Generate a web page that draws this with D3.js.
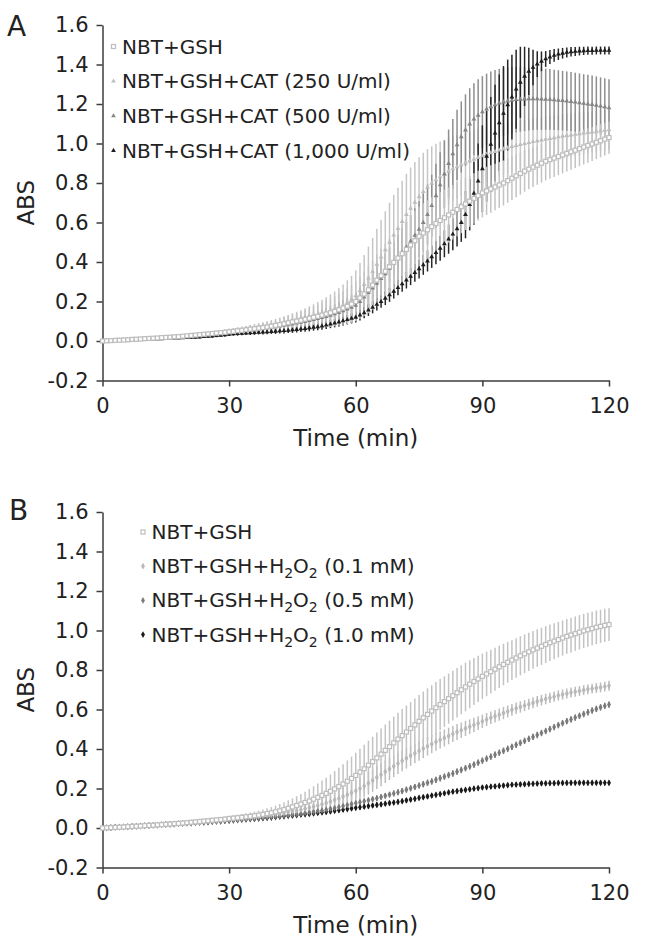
<!DOCTYPE html>
<html><head><meta charset="utf-8">
<script src="https://cdn.jsdelivr.net/npm/d3@7"></script>
<style>
body{margin:0;background:#fff}
svg{display:block}
text{font-family:"DejaVu Sans",Verdana,sans-serif}
</style>
</head><body>
<svg id="chart" width="645" height="938"></svg>
<script>
// ---------- DATA ----------
const times = [0,1,2,3,4,5,6,7,8,9,10,11,12,13,14,15,16,17,18,19,20,21,22,23,24,25,26,27,28,29,30,31,32,33,34,35,36,37,38,39,40,41,42,43,44,45,46,47,48,49,50,51,52,53,54,55,56,57,58,59,60,61,62,63,64,65,66,67,68,69,70,71,72,73,74,75,76,77,78,79,80,81,82,83,84,85,86,87,88,89,90,91,92,93,94,95,96,97,98,99,100,101,102,103,104,105,106,107,108,109,110,111,112,113,114,115,116,117,118,119,120];
const xTicks = [0,30,60,90,120];
const yTicks = [-0.2,0,0.2,0.4,0.6,0.8,1.0,1.2,1.4,1.6];

// Panel A
const aGSH = [0.000,0.001,0.002,0.003,0.004,0.005,0.006,0.008,0.009,0.010,0.012,
0.013,0.014,0.015,0.017,0.018,0.019,0.021,0.022,0.024,0.026,
0.028,0.030,0.032,0.034,0.036,0.038,0.040,0.042,0.044,0.047,
0.049,0.052,0.054,0.057,0.060,0.062,0.065,0.068,0.071,0.075,
0.079,0.083,0.087,0.092,0.097,0.101,0.105,0.110,0.115,0.120,
0.125,0.131,0.137,0.143,0.150,0.158,0.167,0.176,0.187,0.200,
0.218,0.238,0.259,0.283,0.308,0.331,0.353,0.376,0.398,0.420,
0.442,0.464,0.486,0.508,0.530,0.547,0.563,0.579,0.595,0.610,
0.624,0.638,0.652,0.666,0.680,0.694,0.708,0.722,0.736,0.750,
0.760,0.770,0.780,0.790,0.800,0.812,0.824,0.836,0.848,0.860,
0.870,0.880,0.890,0.900,0.910,0.918,0.926,0.934,0.942,0.950,
0.958,0.966,0.974,0.982,0.990,0.998,1.006,1.014,1.022,1.030];
const aGSHErr = [0.001,0.002,0.002,0.002,0.003,0.003,0.003,0.004,0.004,0.004,0.005,
0.005,0.005,0.006,0.006,0.006,0.007,0.007,0.008,0.008,0.009,
0.009,0.010,0.010,0.011,0.011,0.012,0.012,0.013,0.014,0.015,
0.016,0.017,0.018,0.019,0.020,0.021,0.022,0.024,0.026,0.028,
0.030,0.032,0.034,0.036,0.038,0.041,0.044,0.047,0.051,0.055,
0.059,0.063,0.067,0.071,0.075,0.080,0.085,0.090,0.095,0.100,
0.106,0.112,0.118,0.124,0.130,0.135,0.140,0.144,0.147,0.150,
0.151,0.152,0.152,0.152,0.151,0.150,0.149,0.148,0.146,0.144,
0.142,0.140,0.138,0.136,0.134,0.132,0.130,0.128,0.126,0.124,
0.122,0.120,0.118,0.116,0.114,0.112,0.110,0.108,0.106,0.104,
0.102,0.100,0.099,0.098,0.097,0.096,0.095,0.094,0.093,0.092,
0.091,0.090,0.089,0.088,0.087,0.086,0.085,0.084,0.083,0.082];
const aCat250 = [0.000,0.001,0.002,0.003,0.004,0.005,0.006,0.007,0.008,0.009,0.010,
0.011,0.012,0.013,0.015,0.016,0.017,0.019,0.020,0.022,0.023,
0.025,0.027,0.029,0.031,0.033,0.035,0.037,0.039,0.041,0.044,
0.046,0.049,0.051,0.054,0.057,0.060,0.063,0.066,0.069,0.073,
0.077,0.081,0.085,0.089,0.094,0.099,0.104,0.110,0.116,0.122,
0.129,0.136,0.144,0.152,0.161,0.171,0.182,0.195,0.210,0.228,
0.255,0.285,0.318,0.352,0.388,0.425,0.462,0.500,0.536,0.570,
0.605,0.640,0.672,0.702,0.730,0.756,0.778,0.798,0.816,0.832,
0.846,0.859,0.871,0.882,0.892,0.902,0.911,0.920,0.929,0.937,
0.945,0.952,0.959,0.966,0.972,0.978,0.984,0.989,0.994,0.999,
1.004,1.009,1.013,1.017,1.021,1.025,1.029,1.033,1.037,1.040,
1.043,1.046,1.049,1.052,1.055,1.058,1.061,1.064,1.067,1.070];
const aCat250Err = [0.001,0.002,0.002,0.002,0.003,0.003,0.003,0.004,0.004,0.004,0.005,
0.005,0.006,0.006,0.007,0.007,0.008,0.008,0.009,0.009,0.010,
0.010,0.011,0.012,0.012,0.013,0.014,0.015,0.016,0.017,0.018,
0.019,0.020,0.021,0.022,0.024,0.025,0.027,0.029,0.031,0.033,
0.035,0.037,0.040,0.043,0.046,0.049,0.052,0.056,0.060,0.064,
0.068,0.073,0.078,0.084,0.090,0.097,0.104,0.112,0.120,0.130,
0.140,0.150,0.160,0.170,0.180,0.188,0.195,0.200,0.204,0.206,
0.207,0.207,0.206,0.204,0.201,0.197,0.193,0.188,0.183,0.178,
0.173,0.168,0.164,0.160,0.156,0.152,0.149,0.146,0.143,0.140,
0.138,0.136,0.134,0.132,0.130,0.128,0.126,0.124,0.122,0.120,
0.119,0.118,0.117,0.116,0.115,0.114,0.113,0.112,0.111,0.110,
0.109,0.108,0.107,0.106,0.105,0.104,0.103,0.102,0.101,0.100];
const aCat500 = [0.000,0.001,0.002,0.003,0.004,0.005,0.006,0.007,0.008,0.009,0.010,
0.011,0.012,0.013,0.014,0.016,0.017,0.018,0.020,0.021,0.023,
0.024,0.026,0.028,0.030,0.032,0.034,0.036,0.038,0.040,0.043,
0.045,0.047,0.050,0.052,0.055,0.057,0.060,0.063,0.066,0.069,
0.072,0.075,0.079,0.082,0.086,0.090,0.094,0.098,0.103,0.108,
0.113,0.118,0.124,0.130,0.137,0.144,0.152,0.161,0.170,0.180,
0.200,0.222,0.245,0.268,0.292,0.316,0.340,0.366,0.392,0.420,
0.448,0.476,0.505,0.535,0.565,0.600,0.640,0.685,0.735,0.790,
0.845,0.898,0.948,0.993,1.033,1.068,1.098,1.123,1.143,1.160,
1.174,1.186,1.196,1.204,1.210,1.215,1.219,1.222,1.224,1.225,
1.226,1.226,1.226,1.225,1.224,1.223,1.221,1.219,1.217,1.215,
1.212,1.209,1.206,1.203,1.200,1.197,1.193,1.189,1.185,1.180];
const aCat500Err = [0.001,0.001,0.002,0.002,0.002,0.003,0.003,0.003,0.004,0.004,0.004,
0.005,0.005,0.005,0.006,0.006,0.006,0.007,0.007,0.008,0.008,
0.008,0.009,0.009,0.010,0.010,0.011,0.011,0.012,0.012,0.013,
0.013,0.014,0.015,0.015,0.016,0.017,0.018,0.019,0.020,0.021,
0.022,0.023,0.024,0.026,0.027,0.029,0.030,0.032,0.034,0.036,
0.038,0.040,0.043,0.046,0.049,0.052,0.055,0.059,0.063,0.067,
0.072,0.077,0.082,0.087,0.092,0.097,0.102,0.107,0.112,0.117,
0.122,0.127,0.132,0.137,0.142,0.147,0.152,0.157,0.162,0.166,
0.170,0.173,0.176,0.178,0.180,0.181,0.182,0.182,0.182,0.181,
0.180,0.178,0.176,0.174,0.172,0.170,0.168,0.166,0.164,0.162,
0.160,0.158,0.157,0.156,0.155,0.154,0.153,0.152,0.151,0.150,
0.150,0.149,0.149,0.148,0.148,0.147,0.147,0.146,0.146,0.145];
const aCat1000 = [0.000,0.001,0.001,0.002,0.003,0.004,0.004,0.005,0.006,0.007,0.008,
0.008,0.009,0.010,0.011,0.012,0.013,0.014,0.015,0.016,0.017,
0.018,0.019,0.020,0.022,0.023,0.025,0.027,0.029,0.031,0.034,
0.036,0.037,0.039,0.040,0.041,0.042,0.044,0.045,0.046,0.048,
0.049,0.051,0.052,0.054,0.056,0.058,0.061,0.063,0.066,0.069,
0.072,0.076,0.080,0.085,0.090,0.096,0.102,0.108,0.114,0.120,
0.131,0.143,0.156,0.170,0.185,0.200,0.216,0.233,0.251,0.270,
0.289,0.308,0.327,0.346,0.365,0.385,0.405,0.426,0.447,0.469,
0.492,0.516,0.541,0.568,0.600,0.640,0.690,0.748,0.810,0.872,
0.935,0.995,1.052,1.105,1.152,1.195,1.235,1.275,1.310,1.340,
1.365,1.385,1.402,1.416,1.428,1.438,1.446,1.452,1.457,1.461,
1.464,1.466,1.468,1.469,1.470,1.470,1.471,1.471,1.471,1.471];
const aCat1000Err = [0.001,0.001,0.001,0.002,0.002,0.002,0.002,0.003,0.003,0.003,0.003,
0.004,0.004,0.004,0.004,0.005,0.005,0.005,0.005,0.006,0.006,
0.006,0.006,0.007,0.007,0.007,0.008,0.008,0.008,0.009,0.009,
0.009,0.010,0.010,0.010,0.011,0.011,0.011,0.012,0.012,0.012,
0.013,0.013,0.014,0.014,0.015,0.015,0.016,0.016,0.017,0.017,
0.018,0.019,0.019,0.020,0.021,0.022,0.023,0.024,0.025,0.026,
0.027,0.028,0.029,0.030,0.031,0.032,0.034,0.035,0.036,0.038,
0.040,0.042,0.044,0.046,0.048,0.050,0.053,0.056,0.059,0.063,
0.068,0.074,0.081,0.089,0.098,0.120,0.130,0.160,0.190,0.220,
0.230,0.240,0.245,0.245,0.240,0.230,0.215,0.200,0.180,0.150,
0.120,0.090,0.065,0.050,0.040,0.035,0.032,0.029,0.027,0.025,
0.024,0.023,0.022,0.021,0.021,0.020,0.020,0.020,0.020,0.020];

// Panel B
const bGSH = [0.000,0.001,0.002,0.003,0.004,0.005,0.007,0.008,0.009,0.010,0.012,
0.013,0.014,0.016,0.017,0.019,0.020,0.022,0.023,0.025,0.027,
0.029,0.031,0.033,0.035,0.037,0.039,0.041,0.043,0.045,0.048,
0.050,0.052,0.054,0.057,0.059,0.062,0.065,0.069,0.073,0.077,
0.082,0.087,0.093,0.100,0.107,0.114,0.121,0.129,0.137,0.146,
0.155,0.165,0.175,0.186,0.198,0.210,0.223,0.237,0.251,0.266,
0.283,0.300,0.318,0.336,0.355,0.374,0.393,0.412,0.431,0.450,
0.468,0.486,0.504,0.522,0.540,0.558,0.575,0.592,0.609,0.625,
0.640,0.655,0.670,0.685,0.700,0.714,0.728,0.742,0.755,0.768,
0.780,0.792,0.804,0.816,0.828,0.839,0.850,0.861,0.872,0.882,
0.892,0.902,0.911,0.920,0.929,0.938,0.946,0.954,0.962,0.970,
0.977,0.984,0.991,0.998,1.004,1.010,1.016,1.021,1.026,1.030];
const bGSHErr = [0.001,0.001,0.002,0.002,0.002,0.003,0.003,0.003,0.004,0.004,0.004,
0.005,0.005,0.005,0.006,0.006,0.006,0.007,0.007,0.008,0.008,
0.008,0.009,0.009,0.010,0.010,0.011,0.011,0.012,0.013,0.014,
0.015,0.016,0.017,0.018,0.019,0.021,0.023,0.025,0.027,0.029,
0.031,0.034,0.037,0.040,0.043,0.047,0.051,0.055,0.060,0.065,
0.070,0.075,0.080,0.085,0.090,0.095,0.100,0.105,0.110,0.115,
0.118,0.121,0.124,0.126,0.128,0.130,0.131,0.132,0.133,0.134,
0.134,0.134,0.134,0.134,0.133,0.133,0.132,0.131,0.130,0.129,
0.128,0.127,0.126,0.125,0.124,0.123,0.121,0.119,0.117,0.115,
0.113,0.111,0.109,0.107,0.105,0.103,0.101,0.100,0.099,0.098,
0.097,0.096,0.095,0.094,0.093,0.092,0.091,0.090,0.089,0.088,
0.088,0.087,0.087,0.086,0.086,0.085,0.085,0.084,0.084,0.083];
const bH2O2_01 = [0.000,0.001,0.002,0.003,0.004,0.005,0.006,0.008,0.009,0.010,0.011,
0.012,0.014,0.015,0.016,0.018,0.019,0.021,0.022,0.024,0.025,
0.027,0.029,0.031,0.033,0.035,0.037,0.039,0.041,0.043,0.045,
0.047,0.049,0.051,0.053,0.055,0.057,0.060,0.062,0.065,0.068,
0.071,0.074,0.077,0.081,0.085,0.089,0.093,0.098,0.103,0.108,
0.114,0.120,0.127,0.134,0.142,0.150,0.159,0.168,0.178,0.188,
0.200,0.213,0.227,0.241,0.256,0.270,0.285,0.299,0.313,0.327,
0.340,0.353,0.366,0.378,0.390,0.402,0.414,0.425,0.436,0.446,
0.456,0.466,0.476,0.486,0.495,0.504,0.513,0.522,0.531,0.540,
0.549,0.558,0.566,0.574,0.582,0.590,0.598,0.606,0.613,0.620,
0.627,0.634,0.641,0.647,0.653,0.659,0.665,0.671,0.676,0.681,
0.686,0.690,0.694,0.698,0.702,0.706,0.709,0.712,0.716,0.720];
const bH2O2_01Err = [0.001,0.001,0.001,0.002,0.002,0.002,0.002,0.003,0.003,0.003,0.003,
0.004,0.004,0.004,0.004,0.005,0.005,0.005,0.005,0.006,0.006,
0.006,0.006,0.007,0.007,0.007,0.008,0.008,0.008,0.009,0.009,
0.010,0.010,0.011,0.011,0.012,0.013,0.014,0.015,0.016,0.017,
0.018,0.019,0.021,0.023,0.025,0.027,0.029,0.031,0.033,0.035,
0.037,0.039,0.041,0.043,0.045,0.047,0.049,0.051,0.053,0.055,
0.056,0.057,0.058,0.058,0.058,0.058,0.057,0.056,0.055,0.054,
0.053,0.052,0.051,0.050,0.049,0.048,0.047,0.046,0.045,0.044,
0.043,0.042,0.041,0.040,0.039,0.038,0.037,0.036,0.035,0.034,
0.033,0.032,0.032,0.031,0.031,0.030,0.030,0.029,0.029,0.028,
0.028,0.028,0.027,0.027,0.027,0.026,0.026,0.026,0.026,0.025,
0.025,0.025,0.025,0.025,0.025,0.025,0.025,0.025,0.025,0.025];
const bH2O2_05 = [0.000,0.001,0.002,0.003,0.004,0.005,0.006,0.007,0.008,0.010,0.011,
0.012,0.013,0.014,0.016,0.017,0.018,0.019,0.021,0.022,0.024,
0.025,0.026,0.028,0.029,0.031,0.032,0.034,0.035,0.037,0.038,
0.040,0.041,0.043,0.045,0.046,0.048,0.050,0.052,0.054,0.056,
0.058,0.060,0.063,0.065,0.068,0.070,0.073,0.076,0.079,0.082,
0.086,0.089,0.093,0.097,0.101,0.106,0.111,0.116,0.121,0.126,
0.131,0.136,0.141,0.146,0.151,0.157,0.163,0.169,0.175,0.181,
0.187,0.194,0.201,0.208,0.215,0.222,0.229,0.236,0.244,0.252,
0.260,0.268,0.276,0.285,0.294,0.303,0.312,0.321,0.331,0.341,
0.351,0.361,0.371,0.381,0.391,0.401,0.411,0.421,0.431,0.441,
0.451,0.461,0.471,0.481,0.491,0.501,0.511,0.521,0.531,0.541,
0.550,0.559,0.568,0.577,0.586,0.595,0.603,0.611,0.618,0.625];
const bH2O2_05Err = [0.001,0.001,0.001,0.001,0.002,0.002,0.002,0.002,0.002,0.003,0.003,
0.003,0.003,0.003,0.003,0.004,0.004,0.004,0.004,0.004,0.004,
0.005,0.005,0.005,0.005,0.005,0.005,0.006,0.006,0.006,0.006,
0.006,0.006,0.007,0.007,0.007,0.007,0.007,0.008,0.008,0.008,
0.008,0.008,0.009,0.009,0.009,0.009,0.010,0.010,0.010,0.010,
0.011,0.011,0.011,0.011,0.012,0.012,0.012,0.012,0.013,0.013,
0.013,0.013,0.013,0.014,0.014,0.014,0.014,0.014,0.015,0.015,
0.015,0.015,0.015,0.015,0.015,0.016,0.016,0.016,0.016,0.016,
0.016,0.016,0.016,0.016,0.016,0.016,0.016,0.016,0.016,0.016,
0.016,0.016,0.016,0.016,0.016,0.016,0.016,0.016,0.016,0.016,
0.016,0.016,0.016,0.016,0.016,0.016,0.016,0.016,0.016,0.016,
0.016,0.016,0.016,0.016,0.016,0.016,0.016,0.016,0.016,0.016];
const bH2O2_10 = [0.000,0.001,0.002,0.004,0.005,0.006,0.007,0.008,0.009,0.011,0.012,
0.013,0.014,0.015,0.017,0.018,0.019,0.020,0.022,0.023,0.024,
0.025,0.027,0.028,0.029,0.030,0.032,0.033,0.034,0.036,0.037,
0.039,0.040,0.042,0.043,0.045,0.046,0.048,0.050,0.051,0.053,
0.055,0.057,0.059,0.061,0.063,0.065,0.067,0.069,0.071,0.074,
0.076,0.079,0.081,0.084,0.087,0.090,0.093,0.096,0.099,0.102,
0.105,0.108,0.111,0.114,0.117,0.120,0.123,0.126,0.129,0.132,
0.136,0.140,0.144,0.148,0.152,0.156,0.160,0.164,0.168,0.172,
0.176,0.180,0.184,0.187,0.190,0.193,0.196,0.199,0.202,0.205,
0.207,0.209,0.211,0.213,0.215,0.217,0.219,0.220,0.221,0.222,
0.223,0.224,0.225,0.226,0.226,0.227,0.227,0.228,0.228,0.228,
0.229,0.229,0.229,0.229,0.229,0.229,0.229,0.229,0.229,0.229];
const bH2O2_10Err = [0.001,0.001,0.001,0.001,0.002,0.002,0.002,0.002,0.002,0.003,0.003,
0.003,0.003,0.003,0.004,0.004,0.004,0.004,0.004,0.005,0.005,
0.005,0.005,0.005,0.006,0.006,0.006,0.006,0.006,0.007,0.007,
0.007,0.007,0.007,0.008,0.008,0.008,0.008,0.008,0.009,0.009,
0.009,0.009,0.009,0.009,0.010,0.010,0.010,0.010,0.010,0.010,
0.010,0.010,0.011,0.011,0.011,0.011,0.011,0.011,0.011,0.012,
0.012,0.012,0.012,0.012,0.012,0.012,0.012,0.012,0.012,0.012,
0.012,0.012,0.012,0.012,0.012,0.012,0.012,0.012,0.012,0.012,
0.012,0.012,0.012,0.012,0.012,0.012,0.012,0.012,0.012,0.012,
0.012,0.012,0.012,0.012,0.012,0.012,0.012,0.012,0.012,0.012,
0.012,0.012,0.012,0.012,0.012,0.012,0.012,0.012,0.012,0.012,
0.012,0.012,0.012,0.012,0.012,0.012,0.012,0.012,0.012,0.012];

const legendA = [["NBT+GSH"],["NBT+GSH+CAT (250 U/ml)"],["NBT+GSH+CAT (500 U/ml)"],["NBT+GSH+CAT (1,000 U/ml)"]];
const legendB = [["NBT+GSH"],["NBT+GSH+H","2","O","2"," (0.1 mM)"],["NBT+GSH+H","2","O","2"," (0.5 mM)"],["NBT+GSH+H","2","O","2"," (1.0 mM)"]];

// ---------- DRAW ----------
const svg = d3.select("#chart");
const FONT = '"DejaVu Sans",Verdana,sans-serif';
const AX = "#3c3c3c", TXT = "#222";

function panel(cfg) {
  const x = d3.scaleLinear().domain([0,120]).range([102.5,609]);
  const y = d3.scaleLinear().domain([-0.2,1.6]).range([cfg.bottom, cfg.top]);
  const g = svg.append("g");

  // axes
  const yAxis = d3.axisLeft(y).tickValues(yTicks).tickFormat(d => d.toFixed(1))
      .tickSize(6).tickSizeOuter(0).tickPadding(8);
  const xAxis = d3.axisBottom(x).tickValues(xTicks).tickFormat(d => String(d))
      .tickSize(6).tickSizeOuter(0).tickPadding(12);
  const gy = g.append("g").attr("transform", `translate(${x(0)},0)`).call(yAxis);
  const gx = g.append("g").attr("transform", `translate(0,${y(-0.2)})`).call(xAxis);
  [gx, gy].forEach(a => {
    a.select(".domain").attr("stroke", AX).attr("stroke-width", 1.5);
    a.selectAll(".tick line").attr("stroke", AX).attr("stroke-width", 1.5);
    a.selectAll(".tick text").attr("fill", TXT).style("font-size", "21px").style("font-family", FONT);
  });

  // axis titles
  g.append("text").attr("x", (x(0)+x(120))/2).attr("y", y(-0.2)+65)
    .attr("text-anchor","middle").style("font-size","23px").attr("fill",TXT).text("Time (min)");
  g.append("text").attr("transform", `translate(34,${(y(-0.2)+y(1.6))/2}) rotate(-90)`)
    .attr("text-anchor","middle").style("font-size","23px").attr("fill",TXT).text("ABS");
  g.append("text").attr("x", cfg.letterX).attr("y", cfg.letterY)
    .style("font-size","28px").attr("fill",TXT).text(cfg.letter);

  // error bars
  cfg.series.forEach(s => {
    g.append("g").selectAll("line").data(times).join("line")
      .attr("x1", (t) => x(t)).attr("x2", (t) => x(t))
      .attr("y1", (t,i) => y(s.values[i] - s.errors[i]))
      .attr("y2", (t,i) => y(s.values[i] + s.errors[i]))
      .attr("stroke", s.bar).attr("stroke-width", 1.5);
  });
  // markers
  cfg.series.forEach(s => {
    const mg = g.append("g");
    drawMarkers(mg, s, times.map((t,i) => [x(t), y(s.values[i])]));
  });

  // legend
  cfg.legend.forEach((parts, i) => {
    const s = cfg.series[cfg.legendOrder[i]];
    const cy = cfg.legY + i*cfg.legStep;
    drawMarkers(g.append("g"), s, [[cfg.legMarkX, cy - 7]]);
    const t = g.append("text").attr("x", cfg.legTextX).attr("y", cy)
      .style("font-size","20px").attr("fill",TXT);
    parts.forEach((p, k) => {
      if (k === 1 || k === 3) {
        t.append("tspan").attr("dy", 5).style("font-size","14px").text(p);
      } else {
        const ts = t.append("tspan").text(p);
        if (k === 2 || k === 4) ts.attr("dy", -5);
      }
    });
  });
}

function drawMarkers(g, s, pts) {
  if (s.marker === "square") {
    g.selectAll("rect").data(pts).join("rect")
      .attr("x", d => d[0]-2).attr("y", d => d[1]-2).attr("width",4).attr("height",4)
      .attr("fill","#fff").attr("stroke", s.color).attr("stroke-width",1.2);
  } else {
    const sym = d3.symbol().type(s.marker === "triangle" ? d3.symbolTriangle : d3.symbolDiamond)
      .size(s.marker === "triangle" ? 10 : 13);
    g.selectAll("path").data(pts).join("path")
      .attr("transform", d => `translate(${d[0]},${d[1]})`).attr("d", sym())
      .attr("fill", s.color);
  }
}

panel({
  top: 25, bottom: 380.5, letter: "A", letterX: 7, letterY: 36,
  series: [
    {values: aCat250, errors: aCat250Err, marker: "triangle", color: "#bdbdbd", bar: "#c6c6c6"},
    {values: aCat500, errors: aCat500Err, marker: "triangle", color: "#858585", bar: "#8e8e8e"},
    {values: aCat1000, errors: aCat1000Err, marker: "triangle", color: "#1e1e1e", bar: "#262626"},
    {values: aGSH, errors: aGSHErr, marker: "square", color: "#bdbdbd", bar: "#c3c3c3"}
  ],
  legend: legendA, legendOrder: [3,0,1,2],
  legMarkX: 113.5, legTextX: 122, legY: 53.5, legStep: 34.7
});
panel({
  top: 512, bottom: 867.5, letter: "B", letterX: 9, letterY: 520,
  series: [
    {values: bH2O2_10, errors: bH2O2_10Err, marker: "diamond", color: "#1a1a1a", bar: "#1a1a1a"},
    {values: bH2O2_05, errors: bH2O2_05Err, marker: "diamond", color: "#7a7a7a", bar: "#7a7a7a"},
    {values: bH2O2_01, errors: bH2O2_01Err, marker: "diamond", color: "#b8b8b8", bar: "#bcbcbc"},
    {values: bGSH, errors: bGSHErr, marker: "square", color: "#bdbdbd", bar: "#c3c3c3"}
  ],
  legend: legendB, legendOrder: [3,2,1,0],
  legMarkX: 143, legTextX: 151.5, legY: 539, legStep: 34.2
});
</script>
</body></html>
